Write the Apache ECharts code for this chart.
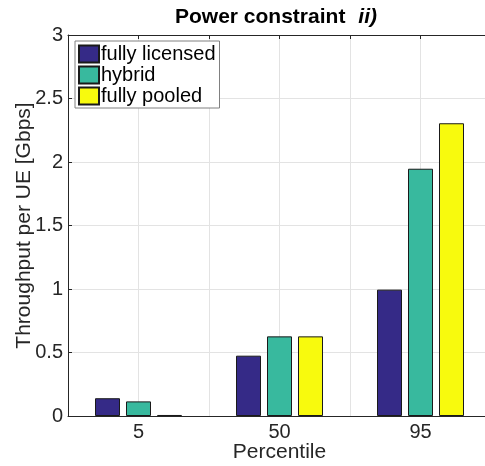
<!DOCTYPE html>
<html>
<head>
<meta charset="UTF-8">
<title>Power constraint</title>
<script src="https://cdn.jsdelivr.net/npm/echarts@6/dist/echarts.min.js"></script>
<style>
    * { margin: 0; padding: 0; }
    body { background: #fff; }
    #chart { width: 485px; height: 466px; }
</style>
</head>
<body>
<div id="chart"></div>
<script>
    // percentiles on the x axis
    const categories = ['5', '50', '95'];
    const seriesNames = ['fully licensed', 'hybrid', 'fully pooled'];
    // throughput per UE [Gbps]
    const fullyLicensed = [0.14, 0.475, 0.995];
    const hybrid = [0.115, 0.627, 1.947];
    const fullyPooled = [0.008, 0.627, 2.305];
    const yTicks = [0, 0.5, 1, 1.5, 2, 2.5, 3];

    const colors = ['#352a87', '#38b99e', '#f8fa0d'];
    const font = 'Liberation Sans, Arial, sans-serif';
    const ink = '#262626';

    const chart = echarts.init(document.getElementById('chart'));

    const values = [fullyLicensed, hybrid, fullyPooled];
    const series = seriesNames.map(function (name, i) {
        return {
            name: name,
            type: 'bar',
            xAxisIndex: 0,
            data: values[i],
            barWidth: 25,
            barGap: '24%',
            itemStyle: { color: colors[i], borderColor: '#1a1a1a', borderWidth: 1 },
            emphasis: { disabled: true }
        };
    });

    chart.setOption({
        animation: false,
        textStyle: { fontFamily: font },
        title: {
            text: '{a|Power constraint}{b|ii)}',
            left: 170,
            top: 2,
            textStyle: {
                rich: {
                    a: { fontFamily: font, fontSize: 21, fontWeight: 'bold', color: '#000' },
                    b: { fontFamily: font, fontSize: 21, fontWeight: 'bold', fontStyle: 'italic', color: '#000', padding: [0, 0, 0, 13] }
                }
            }
        },
        legend: {
            orient: 'vertical',
            left: 75,
            top: 41,
            padding: [3, 4, 2, 3],
            itemGap: 1,
            itemWidth: 20,
            itemHeight: 17,
            icon: 'rect',
            borderColor: '#808080',
            borderWidth: 1,
            backgroundColor: '#fff',
            textStyle: { fontSize: 20, lineHeight: 20, color: '#000', padding: [0, 0, 0, -3] },
            data: seriesNames
        },
        grid: { left: 68, top: 35, right: -6, bottom: 50, containLabel: false, outerBoundsMode: 'none' },
        xAxis: [
            {
                type: 'category',
                data: categories,
                position: 'bottom',
                name: 'Percentile',
                nameLocation: 'middle',
                nameGap: 26,
                nameMoveOverlap: false,
                nameTextStyle: { fontSize: 21, color: ink },
                axisLine: { lineStyle: { color: ink, width: 1 } },
                axisTick: { show: false },
                axisLabel: { fontSize: 20, color: ink, margin: 6 },
                splitLine: { show: false }
            },
            {
                type: 'value',
                position: 'top',
                min: 0.5,
                max: 3.5,
                interval: 0.5,
                axisLine: { show: true, onZero: false, lineStyle: { color: ink, width: 1 } },
                axisTick: { show: true, inside: true, length: 4, lineStyle: { color: ink } },
                axisLabel: { show: false },
                splitLine: { show: true, lineStyle: { color: '#e3e3e3', width: 1 } }
            }
        ],
        yAxis: {
            type: 'value',
            min: yTicks[0],
            max: yTicks[yTicks.length - 1],
            interval: 0.5,
            name: 'Throughput per UE [Gbps]',
            nameLocation: 'middle',
            nameGap: 33,
            nameMoveOverlap: false,
            nameTextStyle: { fontSize: 21, color: ink },
            axisLine: { show: true, lineStyle: { color: ink, width: 1 } },
            axisTick: { show: true, inside: true, length: 4, lineStyle: { color: ink } },
            axisLabel: { fontSize: 20, color: ink, margin: 5 },
            splitLine: { show: true, lineStyle: { color: '#e3e3e3', width: 1 } }
        },
        series: series
    });
</script>
</body>
</html>
